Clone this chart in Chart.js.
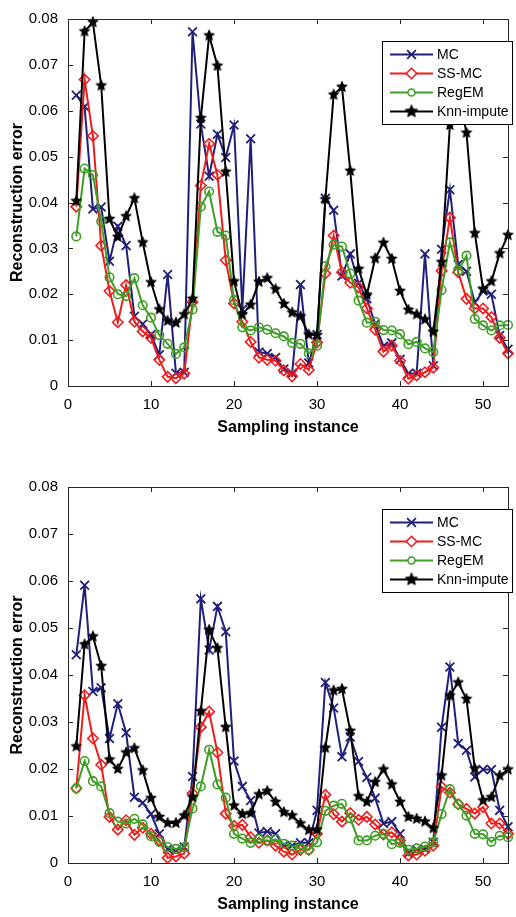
<!DOCTYPE html>
<html>
<head>
<meta charset="utf-8">
<script src="https://cdn.jsdelivr.net/npm/chart.js@4.4.1/dist/chart.umd.min.js"></script>
<style>
  html, body { margin: 0; padding: 0; background: #ffffff; }
  canvas { display: block; }
</style>
</head>
<body>
<canvas id="errTop" width="516" height="458"></canvas>
<canvas id="errBottom" width="516" height="459"></canvas>
<script>
// Sampling instances shared by both panels
const sampleIndex = [1,2,3,4,5,6,7,8,9,10,11,12,13,14,15,16,17,18,19,20,21,22,23,24,25,26,27,
  28,29,30,31,32,33,34,35,36,37,38,39,40,41,42,43,44,45,46,47,48,49,50,51,52,53];
const xTickValues = [0, 10, 20, 30, 40, 50];
const yTickValues = [0, 0.01, 0.02, 0.03, 0.04, 0.05, 0.06, 0.07, 0.08];
const seriesNames = ['MC', 'SS-MC', 'RegEM', 'Knn-impute'];

// Upper panel: reconstruction error per sampling instance
const upperMC = [0.0634,0.0609,0.0386,0.0390,0.0272,0.0348,0.0306,0.0152,0.0135,0.0112,0.0068,0.0243,0.0028,0.0030,
  0.0772,0.0571,0.0457,0.0549,0.0498,0.0569,0.0167,0.0539,0.0074,0.0071,0.0062,0.0037,0.0028,0.0221,0.0050,0.0112,
  0.0409,0.0383,0.0240,0.0288,0.0224,0.0190,0.0135,0.0087,0.0094,0.0058,0.0027,0.0028,0.0288,0.0044,0.0298,0.0428,
  0.0265,0.0250,0.0182,0.0207,0.0200,0.0110,0.0080];
const upperSSMC = [0.0391,0.0668,0.0545,0.0306,0.0207,0.0139,0.0220,0.0140,0.0119,0.0105,0.0057,0.0020,0.0017,0.0027,
  0.0183,0.0437,0.0528,0.0460,0.0274,0.0180,0.0140,0.0096,0.0062,0.0057,0.0055,0.0034,0.0021,0.0048,0.0035,0.0095,
  0.0245,0.0328,0.0248,0.0225,0.0215,0.0169,0.0123,0.0075,0.0088,0.0055,0.0016,0.0023,0.0030,0.0040,0.0251,0.0367,
  0.0248,0.0190,0.0169,0.0169,0.0150,0.0105,0.0071];
const upperRegEM = [0.0326,0.0474,0.0460,0.0359,0.0237,0.0200,0.0196,0.0235,0.0176,0.0149,0.0111,0.0092,0.0070,0.0084,
  0.0167,0.0391,0.0424,0.0336,0.0328,0.0187,0.0128,0.0121,0.0128,0.0123,0.0115,0.0108,0.0094,0.0092,0.0071,0.0088,
  0.0261,0.0308,0.0304,0.0245,0.0186,0.0138,0.0140,0.0122,0.0121,0.0113,0.0091,0.0096,0.0082,0.0074,0.0209,0.0313,
  0.0251,0.0284,0.0146,0.0132,0.0121,0.0132,0.0133];
const upperKnn = [0.0403,0.0773,0.0793,0.0655,0.0364,0.0325,0.0370,0.0409,0.0313,0.0226,0.0167,0.0142,0.0138,0.0156,
  0.0190,0.0584,0.0764,0.0698,0.0467,0.0228,0.0156,0.0177,0.0227,0.0235,0.0211,0.0179,0.0160,0.0152,0.0112,0.0111,
  0.0407,0.0635,0.0652,0.0469,0.0255,0.0199,0.0278,0.0312,0.0277,0.0207,0.0166,0.0156,0.0145,0.0118,0.0270,0.0569,
  0.0640,0.0552,0.0333,0.0211,0.0228,0.0289,0.0329];

// Lower panel: reconstruction error per sampling instance
const lowerMC = [0.0443,0.0591,0.0365,0.0373,0.0265,0.0339,0.0277,0.0140,0.0128,0.0104,0.0062,0.0030,0.0027,0.0034,
  0.0184,0.0562,0.0453,0.0546,0.0492,0.0217,0.0163,0.0133,0.0064,0.0067,0.0062,0.0037,0.0037,0.0043,0.0043,0.0112,
  0.0384,0.0330,0.0226,0.0268,0.0216,0.0182,0.0138,0.0084,0.0088,0.0062,0.0021,0.0028,0.0030,0.0044,0.0289,0.0417,
  0.0254,0.0240,0.0183,0.0199,0.0199,0.0112,0.0077];
const lowerSSMC = [0.0159,0.0357,0.0265,0.0209,0.0098,0.0071,0.0091,0.0060,0.0075,0.0062,0.0048,0.0011,0.0014,0.0020,
  0.0148,0.0289,0.0322,0.0235,0.0105,0.0079,0.0081,0.0055,0.0043,0.0048,0.0037,0.0024,0.0018,0.0028,0.0028,0.0062,
  0.0145,0.0104,0.0088,0.0106,0.0092,0.0098,0.0082,0.0061,0.0065,0.0048,0.0016,0.0018,0.0026,0.0037,0.0162,0.0150,
  0.0125,0.0115,0.0105,0.0119,0.0084,0.0084,0.0062];
const lowerRegEM = [0.0159,0.0217,0.0174,0.0163,0.0106,0.0088,0.0084,0.0094,0.0082,0.0057,0.0045,0.0034,0.0030,0.0034,
  0.0116,0.0163,0.0241,0.0167,0.0139,0.0062,0.0052,0.0043,0.0051,0.0047,0.0050,0.0041,0.0037,0.0031,0.0028,0.0044,
  0.0111,0.0122,0.0126,0.0095,0.0048,0.0048,0.0058,0.0062,0.0040,0.0043,0.0028,0.0031,0.0035,0.0044,0.0104,0.0157,
  0.0125,0.0101,0.0062,0.0061,0.0045,0.0058,0.0055];
const lowerKnn = [0.0248,0.0465,0.0482,0.0419,0.0220,0.0200,0.0235,0.0244,0.0197,0.0138,0.0098,0.0085,0.0085,0.0101,
  0.0140,0.0323,0.0496,0.0457,0.0289,0.0122,0.0104,0.0106,0.0146,0.0153,0.0130,0.0108,0.0101,0.0084,0.0070,0.0071,
  0.0245,0.0367,0.0370,0.0281,0.0142,0.0130,0.0172,0.0199,0.0167,0.0130,0.0098,0.0094,0.0088,0.0074,0.0186,0.0356,
  0.0384,0.0349,0.0201,0.0133,0.0140,0.0186,0.0199];

const COLORS = ['#20207a', '#ee1d1d', '#3f9e26', '#000000'];
const FONT = '"Liberation Sans", Arial, Helvetica, sans-serif';

// Filled five-point star used as the Knn-impute marker
function makeStar(r, color) {
  const size = Math.ceil(r * 2 + 3);
  const c = document.createElement('canvas');
  c.width = size; c.height = size;
  const g = c.getContext('2d');
  g.translate(size / 2, size / 2);
  g.beginPath();
  for (let k = 0; k < 10; k++) {
    const rad = k % 2 === 0 ? r : r * 0.45;
    const a = -Math.PI / 2 + k * Math.PI / 5;
    g.lineTo(rad * Math.cos(a), rad * Math.sin(a));
  }
  g.closePath();
  g.fillStyle = color; g.fill();
  g.lineWidth = 1; g.strokeStyle = color; g.stroke();
  return c;
}
const starMarker = makeStar(5.5, '#000000');
const legendStar = makeStar(6.5, '#000000');

const markerSpec = [
  { pointStyle: 'crossRot', pointRadius: 6.2, pointBorderWidth: 1.8 },
  { pointStyle: 'rectRot', pointRadius: 5.2, pointBorderWidth: 1.6 },
  { pointStyle: 'circle', pointRadius: 4.3, pointBorderWidth: 1.6 },
  { pointStyle: starMarker, pointRadius: 5.5, pointBorderWidth: 0 }
];

function toPoints(values) {
  return sampleIndex.map((s, i) => ({ x: s, y: values[i] }));
}

// Boxed axes with inward ticks, an opaque legend and axis titles
const framePlugin = {
  id: 'framePlugin',
  afterDatasetsDraw(chart) {
    const { ctx, chartArea: a, scales: { x, y } } = chart;
    ctx.save();
    ctx.strokeStyle = '#262626';
    ctx.lineWidth = 1;
    ctx.strokeRect(Math.round(a.left) + 0.5, Math.round(a.top) + 0.5,
      Math.round(a.right - a.left), Math.round(a.bottom - a.top));
    const tick = 5;
    ctx.beginPath();
    xTickValues.forEach(v => {
      const px = Math.round(x.getPixelForValue(v)) + 0.5;
      ctx.moveTo(px, a.bottom); ctx.lineTo(px, a.bottom - tick);
      ctx.moveTo(px, a.top); ctx.lineTo(px, a.top + tick);
    });
    yTickValues.forEach(v => {
      const py = Math.round(y.getPixelForValue(v)) + 0.5;
      ctx.moveTo(a.left, py); ctx.lineTo(a.left + tick, py);
      ctx.moveTo(a.right, py); ctx.lineTo(a.right - tick, py);
    });
    ctx.stroke();

    // legend box
    const lx = a.left + 314, ly = a.top + 22, lw = 130, lh = 83;
    ctx.fillStyle = '#ffffff';
    ctx.fillRect(lx, ly, lw, lh);
    ctx.strokeStyle = '#000000';
    ctx.lineWidth = 1;
    ctx.strokeRect(Math.round(lx) + 0.5, Math.round(ly) + 0.5, lw, lh);
    ctx.font = '14px ' + FONT;
    ctx.textBaseline = 'middle';
    ctx.textAlign = 'left';
    chart.data.datasets.forEach((ds, i) => {
      const rowY = ly + 13.5 + i * 19;
      ctx.strokeStyle = COLORS[i];
      ctx.lineWidth = 2;
      ctx.beginPath();
      ctx.moveTo(lx + 8, rowY); ctx.lineTo(lx + 51, rowY);
      ctx.stroke();
      const spec = markerSpec[i];
      if (i === 3) {
        ctx.drawImage(legendStar, lx + 29.5 - legendStar.width / 2, rowY - legendStar.height / 2);
      } else {
        ctx.fillStyle = '#ffffff';
        ctx.strokeStyle = COLORS[i];
        ctx.lineWidth = spec.pointBorderWidth;
        Chart.helpers.drawPoint(ctx, {
          pointStyle: spec.pointStyle,
          radius: i === 2 ? 3.5 : spec.pointRadius,
          borderWidth: spec.pointBorderWidth,
          rotation: 0
        }, lx + 29.5, rowY);
      }
      ctx.fillStyle = '#000000';
      ctx.fillText(ds.label, lx + 55, rowY + 1);
    });

    // axis titles
    ctx.fillStyle = '#000000';
    ctx.font = 'bold 16px ' + FONT;
    ctx.textAlign = 'center';
    ctx.textBaseline = 'middle';
    ctx.fillText('Sampling instance', (a.left + a.right) / 2, a.bottom + 42);
    ctx.translate(18, (a.top + a.bottom) / 2);
    ctx.rotate(-Math.PI / 2);
    ctx.fillText('Reconstruction error', 0, 0);
    ctx.restore();
  }
};

function buildChart(canvasId, series, topPad, axisHeight) {
  const datasets = series.map((vals, i) => ({
    label: seriesNames[i],
    data: toPoints(vals),
    borderColor: COLORS[i],
    backgroundColor: COLORS[i],
    pointBackgroundColor: i === 3 ? COLORS[i] : 'rgba(255,255,255,0)',
    pointBorderColor: COLORS[i],
    borderWidth: 2,
    tension: 0,
    clip: false,
    order: 3 - i,
    ...markerSpec[i]
  }));
  return new Chart(document.getElementById(canvasId), {
    type: 'line',
    data: { datasets },
    options: {
      responsive: false,
      animation: false,
      devicePixelRatio: 1,
      layout: { padding: { top: topPad, right: 1, left: 0, bottom: 0 } },
      plugins: { legend: { display: false }, tooltip: { enabled: false } },
      scales: {
        x: {
          type: 'linear',
          min: 0, max: 53,
          grid: { display: false, drawTicks: false },
          border: { display: false },
          afterBuildTicks: s => { s.ticks = xTickValues.map(v => ({ value: v })); },
          afterFit: s => { s.height = axisHeight; },
          ticks: { color: '#000', padding: 10, maxRotation: 0, font: { family: FONT, size: 15 } }
        },
        y: {
          min: 0, max: 0.08,
          grid: { display: false, drawTicks: false },
          border: { display: false },
          afterBuildTicks: s => { s.ticks = yTickValues.map(v => ({ value: v })); },
          afterFit: s => { s.width = 68; },
          ticks: {
            color: '#000', padding: 10,
            font: { family: FONT, size: 15 },
            callback: v => (v === 0 ? '0' : v.toFixed(2))
          }
        }
      }
    },
    plugins: [framePlugin]
  });
}

buildChart('errTop', [upperMC, upperSSMC, upperRegEM, upperKnn], 9, 72);
buildChart('errBottom', [lowerMC, lowerSSMC, lowerRegEM, lowerKnn], 29, 54);
</script>
</body>
</html>
